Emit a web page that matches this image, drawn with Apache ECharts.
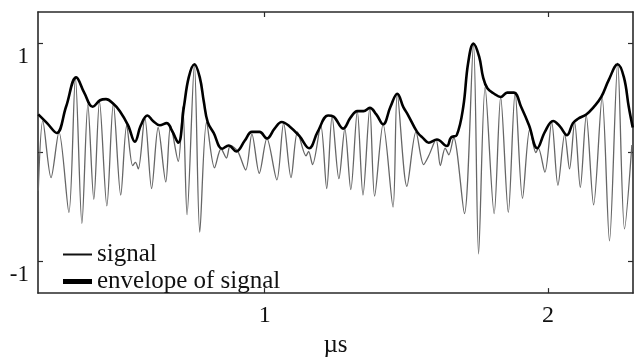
<!DOCTYPE html>
<html>
<head>
<meta charset="utf-8">
<script src="https://cdn.jsdelivr.net/npm/echarts@6/dist/echarts.min.js"></script>
<style>html,body{margin:0;padding:0;background:#fff}#c{width:634px;height:363px}</style>
</head>
<body>
<div id="c"></div>
<script>
// ---- data ----
const signalT = [0.201,0.217,0.246,0.274,0.309,0.332,0.355,0.376,0.397,0.417,0.443,0.466,0.492,0.513,0.534,0.544,0.554,0.577,0.601,0.624,0.651,0.668,0.695,0.711,0.726,0.752,0.771,0.795,0.823,0.846,0.865,0.879,0.905,0.933,0.955,0.981,1.008,1.043,1.067,1.093,1.116,1.146,1.155,1.169,1.198,1.219,1.238,1.262,1.283,1.304,1.327,1.347,1.371,1.388,1.418,1.453,1.468,1.502,1.534,1.561,1.579,1.605,1.620,1.637,1.650,1.667,1.705,1.737,1.755,1.778,1.810,1.833,1.860,1.884,1.910,1.936,1.957,1.966,1.989,2.013,2.035,2.059,2.076,2.094,2.114,2.135,2.161,2.191,2.217,2.246,2.270,2.296];
const signalV = [-0.35,0.29,-0.23,0.19,-0.55,0.69,-0.65,0.44,-0.43,0.47,-0.49,0.45,-0.39,0.25,-0.12,-0.09,-0.15,0.32,-0.33,0.23,-0.27,0.25,-0.08,0.42,-0.57,0.81,-0.73,0.28,-0.14,0.035,-0.05,0.065,0.01,-0.16,0.17,-0.19,0.13,-0.25,0.27,-0.23,0.19,-0.03,0.01,-0.11,0.25,-0.33,0.33,-0.24,0.22,-0.34,0.38,-0.39,0.41,-0.40,0.26,-0.50,0.54,-0.31,0.19,-0.11,-0.03,0.12,-0.12,0.04,-0.02,0.14,-0.56,1.00,-0.93,0.60,-0.56,0.51,-0.55,0.55,-0.42,0.22,0.00,0.04,-0.18,0.28,-0.30,0.17,-0.15,0.28,-0.32,0.34,-0.48,0.51,-0.81,0.82,-0.70,0.07];
const envT = [0.201,0.232,0.266,0.299,0.335,0.363,0.393,0.419,0.440,0.465,0.489,0.518,0.542,0.563,0.586,0.606,0.630,0.654,0.673,0.695,0.715,0.732,0.752,0.771,0.785,0.799,0.820,0.850,0.873,0.900,0.930,0.955,0.982,1.008,1.035,1.060,1.088,1.123,1.157,1.187,1.224,1.243,1.277,1.303,1.327,1.349,1.371,1.394,1.418,1.444,1.468,1.489,1.507,1.538,1.560,1.579,1.608,1.643,1.658,1.678,1.701,1.718,1.737,1.757,1.771,1.786,1.810,1.833,1.856,1.880,1.905,1.933,1.962,1.989,2.018,2.042,2.067,2.088,2.106,2.135,2.162,2.188,2.215,2.246,2.268,2.285,2.299];
const envV = [0.35,0.27,0.18,0.42,0.69,0.55,0.42,0.48,0.49,0.45,0.38,0.25,0.10,0.25,0.34,0.29,0.25,0.27,0.20,0.09,0.42,0.69,0.81,0.69,0.47,0.28,0.18,0.035,0.065,0.01,0.11,0.19,0.19,0.13,0.22,0.28,0.24,0.15,0.04,0.19,0.34,0.33,0.22,0.32,0.38,0.38,0.41,0.35,0.26,0.42,0.54,0.42,0.34,0.19,0.13,0.09,0.12,0.06,0.14,0.16,0.42,0.82,1.00,0.88,0.69,0.59,0.54,0.51,0.55,0.55,0.42,0.25,0.04,0.19,0.29,0.24,0.16,0.27,0.31,0.35,0.42,0.51,0.67,0.81,0.69,0.42,0.23];
const xTicks = [1, 2];
const yTicks = [-1, 0, 1];
const yLabels = [-1, 1];
const xName = 'µs';
const seriesNames = ['signal', 'envelope of signal'];

const zip = (a, b) => a.map((v, i) => [v, b[i]]);
const FONT = 'Liberation Serif';
const axisColor = '#2a2a2a';

const chart = echarts.init(document.getElementById('c'), null, {renderer: 'canvas'});
const baseX = {
  type: 'value', min: 0.2, max: 2.3,
  axisLine: {show: true, onZero: false, lineStyle: {color: axisColor, width: 1.6}},
  splitLine: {show: false},
  axisTick: {show: true, inside: true, length: 5, customValues: xTicks, lineStyle: {color: axisColor, width: 1.2}}
};
const baseY = {
  type: 'value', min: -1.29, max: 1.29,
  axisLine: {show: true, onZero: false, lineStyle: {color: axisColor, width: 1.6}},
  splitLine: {show: false},
  axisTick: {show: true, inside: true, length: 5, customValues: yTicks, lineStyle: {color: axisColor, width: 1.2}}
};
chart.setOption({
  animation: false,
  grid: {left: 38, right: 1, top: 12, bottom: 59, containLabel: false},
  xAxis: [
    Object.assign({}, baseX, {
      position: 'bottom',
      name: xName, nameLocation: 'middle', nameGap: 37,
      nameTextStyle: {fontFamily: FONT, fontSize: 25, color: '#111'},
      axisLabel: {show: true, customValues: xTicks, margin: 11, fontFamily: FONT, fontSize: 24, color: '#111'}
    }),
    Object.assign({}, baseX, {position: 'top', axisLabel: {show: false}})
  ],
  yAxis: [
    Object.assign({}, baseY, {
      position: 'left',
      axisLabel: {show: true, customValues: yLabels, margin: 9, verticalAlign: 'top', padding: [2, 0, 0, 0], fontFamily: FONT, fontSize: 23, color: '#111'}
    }),
    Object.assign({}, baseY, {position: 'right', axisLabel: {show: false}})
  ],
  legend: [
    {data: [{name: seriesNames[0], icon: 'rect', itemStyle: {color: '#111'}}], left: 63, top: 242, padding: 0, itemWidth: 29, itemHeight: 2,
     textStyle: {fontFamily: FONT, fontSize: 25, color: '#111'}},
    {data: [{name: seriesNames[1], icon: 'rect', itemStyle: {color: '#000'}}], left: 63, top: 269, padding: 0, itemWidth: 29, itemHeight: 5,
     textStyle: {fontFamily: FONT, fontSize: 25, color: '#111'}}
  ],
  series: [
    {name: seriesNames[0], type: 'line', data: zip(signalT, signalV), smooth: 0.3, showSymbol: false,
     lineStyle: {color: '#666', width: 1.3}, itemStyle: {color: '#666'}, z: 2},
    {name: seriesNames[1], type: 'line', data: zip(envT, envV), smooth: 0.4, showSymbol: false,
     lineStyle: {color: '#000', width: 2.6}, itemStyle: {color: '#000'}, z: 3}
  ]
});
</script>
</body>
</html>
